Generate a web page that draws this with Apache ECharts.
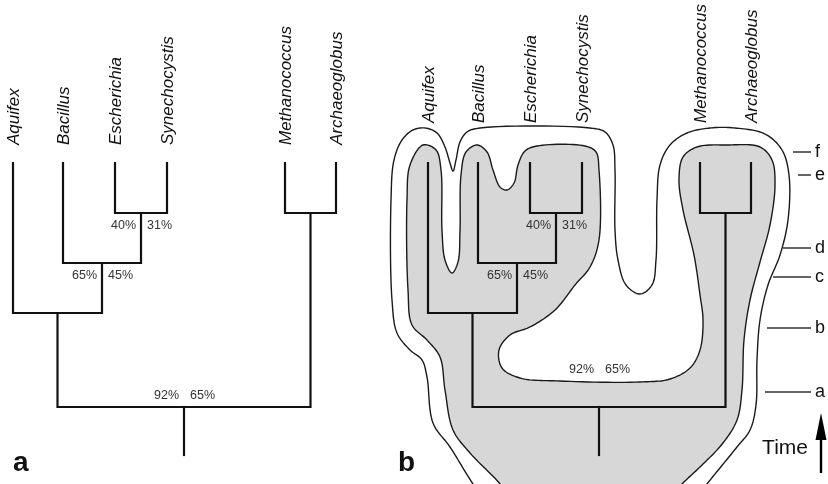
<!DOCTYPE html>
<html><head><meta charset="utf-8">
<script src="https://cdn.jsdelivr.net/npm/echarts@6/dist/echarts.min.js"></script>
<style>html,body{margin:0;padding:0;background:#fff}#c{width:828px;height:484px}</style>
</head><body><div id="c"></div>
<script>
// ---- data ----
const taxa = ['Aquifex', 'Bacillus', 'Escherichia', 'Synechocystis', 'Methanococcus', 'Archaeoglobus'];
const taxonX = [5.0, 10.0, 15.2, 20.4, 32.2, 37.3];
const tipTime = 32.1;
const nodeLeft  = ['Escherichia', 'Bacillus', 'Aquifex', 'Methanococcus', 'N2'];
const nodeRight = ['Synechocystis', 'N0', 'N1', 'Archaeoglobus', 'N3'];
const nodeTime  = [27.1, 22.1, 17.1, 27.1, 7.7];
const leftSupport  = [40, 65, null, null, 92];
const rightSupport = [31, 45, null, null, 65];
const rootBase = 2.9;
const eventNames = ['f', 'e', 'd', 'c', 'b', 'a'];
const eventTime  = [33.2, 30.9, 23.6, 20.7, 15.6, 9.2];
const outerOutline = [[10.7,-1.6],[9.5,0],[7.2,3.7],[5.5,6.1],[4.9,10.7],[4.4,12.4],[3.2,13.4],[1.9,15.1],[1.4,18.4],[1.3,28.4],[1.6,32.4],[2.4,34.4],[3.5,35.4],[4.7,35.6],[5.9,35.1],[6.7,33.7],[7.2,32.1],[7.5,31.3],[7.8,32.4],[8.2,34.2],[8.9,35.2],[10.2,35.6],[21.2,35.6],[22.7,35.2],[23.5,33.9],[23.7,31.4],[23.7,25.4],[24.0,22.4],[24.8,19.9],[26.2,19.0],[27.4,19.9],[27.8,22.4],[27.9,28.4],[28.2,31.9],[29.2,33.9],[30.9,35.1],[33.2,35.6],[35.7,35.6],[38.7,35.0],[40.4,33.4],[41.1,30.9],[41.0,26.4],[40.2,22.9],[39.0,19.9],[38.2,16.4],[37.9,12.4],[37.8,7.9],[37.2,5.4],[35.9,3.7],[32.9,0],[31.7,-1.6]];
const innerOutline = [[13.2,-1.6],[12.2,0],[9.2,3.1],[7.5,5.4],[6.7,9.4],[6.2,12.7],[4.9,14.4],[3.4,15.9],[3.0,19.4],[2.9,28.4],[3.2,31.9],[4.5,33.9],[5.8,33.4],[6.3,31.4],[6.4,25.4],[6.7,22.4],[7.4,21.1],[8.0,22.2],[8.2,25.4],[8.3,30.9],[8.8,33.2],[9.9,33.9],[10.9,33.2],[11.5,31.4],[12.2,29.7],[12.9,29.4],[13.6,30.1],[14.0,31.9],[14.7,33.3],[15.9,33.8],[20.7,33.8],[21.8,33.2],[22.1,31.4],[22.1,24.4],[21.2,21.7],[19.7,19.9],[17.7,17.4],[15.2,15.7],[13.2,14.9],[12.1,13.4],[12.4,11.6],[14.2,10.6],[18.2,10.3],[26.2,10.2],[29.2,10.5],[31.2,11.6],[32.2,13.4],[32.5,16.4],[32.2,18.9],[31.6,22.9],[30.5,27.4],[30.1,30.4],[30.5,32.7],[31.9,33.7],[34.9,33.9],[38.2,33.7],[39.4,32.4],[39.7,29.9],[39.2,25.9],[38.2,22.2],[37.2,18.4],[36.6,14.4],[36.4,9.4],[35.9,6.4],[34.5,4.1],[32.2,1.7],[30.4,0],[29.0,-1.6]];

// ---- layout / style ----
const FONT = "'Liberation Sans', Arial, Helvetica, sans-serif";
const labelTime = [33.9, 36.1];          // where the taxon names end (panel a, b)
const rootLabelDy = [-11, -37];          // root support label offset (px) per panel
const tickStart = [41.5, 42.0, 40.5, 39.5, 38.9, 38.7];
const tickEnd = 43.3;

// ---- tree geometry (dendrogram: internal node at midpoint of children) ----
function pos(name) {
  if (name[0] === 'N') {
    const i = +name.slice(1);
    const l = pos(nodeLeft[i]), r = pos(nodeRight[i]);
    return [(l[0] + r[0]) / 2, nodeTime[i]];
  }
  return [taxonX[taxa.indexOf(name)], tipTime];
}
const treePaths = nodeTime.map((t, i) => {
  const l = pos(nodeLeft[i]), r = pos(nodeRight[i]);
  return [l, [l[0], t], [r[0], t], r];
});
const root = pos('N' + (nodeTime.length - 1));
treePaths.push([root, [root[0], rootBase]]);

// centripetal Catmull-Rom (closed)
function catmull(pts, steps) {
  const n = pts.length, out = [];
  const d = (a, b) => Math.max(1e-4, Math.pow(Math.hypot(b[0] - a[0], b[1] - a[1]), 0.5));
  const lerp = (a, b, ta, tb, t) => [0, 1].map(k => ((tb - t) * a[k] + (t - ta) * b[k]) / (tb - ta));
  for (let i = 0; i < n; i++) {
    const p0 = pts[(i - 1 + n) % n], p1 = pts[i], p2 = pts[(i + 1) % n], p3 = pts[(i + 2) % n];
    const t0 = 0, t1 = t0 + d(p0, p1), t2 = t1 + d(p1, p2), t3 = t2 + d(p2, p3);
    for (let s = 0; s < steps; s++) {
      const t = t1 + (t2 - t1) * s / steps;
      const A1 = lerp(p0, p1, t0, t1, t), A2 = lerp(p1, p2, t1, t2, t), A3 = lerp(p2, p3, t2, t3, t);
      const B1 = lerp(A1, A2, t0, t2, t), B2 = lerp(A2, A3, t1, t3, t);
      out.push(lerp(B1, B2, t1, t2, t));
    }
  }
  return out;
}

function shapeSeries(outline, fill, z) {
  return {
    type: 'custom', xAxisIndex: 1, yAxisIndex: 1, clip: false, silent: true, z: z,
    data: [[20, 20]],
    renderItem: function (params, api) {
      const px = outline.map(p => api.coord(p));
      return { type: 'polygon', shape: { points: catmull(px, 14) },
        style: { fill: fill, stroke: '#1a1a1a', lineWidth: 1.4 } };
    }
  };
}

function treeSeries(panel) {
  return {
    type: 'lines', coordinateSystem: 'cartesian2d', xAxisIndex: panel, yAxisIndex: panel,
    polyline: true, silent: true, z: 5,
    data: treePaths.map(c => ({ coords: c })),
    lineStyle: { color: '#111', width: 2.2, opacity: 1, join: 'miter', cap: 'square' }
  };
}

function taxonLabelSeries(panel) {
  return {
    type: 'custom', xAxisIndex: panel, yAxisIndex: panel, clip: false, silent: true, z: 6,
    data: taxa.map((t, i) => [taxonX[i], labelTime[panel]]),
    renderItem: function (params, api) {
      const p = api.coord([api.value(0), api.value(1)]);
      return { type: 'text', x: p[0] + 1, y: p[1], rotation: Math.PI / 2,
        style: { text: taxa[params.dataIndex], fontSize: 17, fontStyle: 'italic',
          fontFamily: FONT, fill: '#111', align: 'left', verticalAlign: 'middle' } };
    }
  };
}

function supportSeries(panel) {
  const items = [];
  nodeTime.forEach((t, i) => {
    if (leftSupport[i] == null) return;
    const p = pos('N' + i);
    items.push([p[0], t, leftSupport[i], rightSupport[i], i === nodeTime.length - 1 ? 1 : 0]);
  });
  return {
    type: 'custom', xAxisIndex: panel, yAxisIndex: panel, clip: false, silent: true, z: 6,
    data: items,
    renderItem: function (params, api) {
      const p = api.coord([api.value(0), api.value(1)]);
      const dy = api.value(4) ? rootLabelDy[panel] : 13;
      const st = { fontSize: 12.5, fontFamily: FONT, fill: '#333', verticalAlign: 'middle' };
      return { type: 'group', children: [
        { type: 'text', x: p[0] - 5, y: p[1] + dy, style: Object.assign({ text: api.value(2) + '%', align: 'right' }, st) },
        { type: 'text', x: p[0] + 6, y: p[1] + dy, style: Object.assign({ text: api.value(3) + '%', align: 'left' }, st) }
      ] };
    }
  };
}

const eventSeries = {
  type: 'custom', xAxisIndex: 1, yAxisIndex: 1, clip: false, silent: true, z: 6,
  data: eventNames.map((n, i) => [tickStart[i], eventTime[i]]),
  renderItem: function (params, api) {
    const a = api.coord([api.value(0), api.value(1)]);
    const b = api.coord([tickEnd, api.value(1)]);
    return { type: 'group', children: [
      { type: 'line', shape: { x1: a[0], y1: a[1], x2: b[0], y2: b[1] }, style: { stroke: '#333', lineWidth: 1.5 } },
      { type: 'text', x: b[0] + 4, y: a[1], style: { text: eventNames[params.dataIndex], fontSize: 18,
        fontFamily: FONT, fill: '#111', align: 'left', verticalAlign: 'middle' } }
    ] };
  }
};

const timeArrowSeries = {
  type: 'custom', xAxisIndex: 1, yAxisIndex: 1, clip: false, silent: true, z: 6,
  data: [[44.3, 1.1, 7.1]],
  renderItem: function (params, api) {
    const b = api.coord([api.value(0), api.value(1)]);
    const t = api.coord([api.value(0), api.value(2)]);
    const tx = api.coord([43.0, 3.55]);
    return { type: 'group', children: [
      { type: 'line', shape: { x1: b[0], y1: b[1], x2: t[0], y2: t[1] + 20 }, style: { stroke: '#000', lineWidth: 2.4 } },
      { type: 'polygon', shape: { points: [[t[0], t[1]], [t[0] - 5.5, t[1] + 27], [t[0] + 5.5, t[1] + 27]] }, style: { fill: '#000' } },
      { type: 'text', x: tx[0], y: tx[1], style: { text: 'Time', fontSize: 21, fontFamily: FONT, fill: '#111',
        align: 'right', verticalAlign: 'middle' } }
    ] };
  }
};

const chart = echarts.init(document.getElementById('c'), null, { renderer: 'canvas' });
chart.setOption({
  animation: false,
  backgroundColor: '#fff',
  grid: [
    { left: 0, top: 0, width: 450, height: 484 },
    { left: 378, top: 0, width: 450, height: 484 }
  ],
  xAxis: [
    { gridIndex: 0, type: 'value', min: 3.7, max: 48.7, show: false },
    { gridIndex: 1, type: 'value', min: 0, max: 45, show: false }
  ],
  yAxis: [
    { gridIndex: 0, type: 'value', min: 0, max: 48.4, show: false },
    { gridIndex: 1, type: 'value', min: 0, max: 48.4, show: false }
  ],
  graphic: [
    { type: 'text', x: 13, y: 463, style: { text: 'a', font: "bold 28px " + FONT, fill: '#111', verticalAlign: 'middle' } },
    { type: 'text', x: 398, y: 463, style: { text: 'b', font: "bold 28px " + FONT, fill: '#111', verticalAlign: 'middle' } }
  ],
  series: [
    shapeSeries(outerOutline, '#ffffff', 1),
    shapeSeries(innerOutline, '#d7d7d7', 2),
    treeSeries(0), treeSeries(1),
    taxonLabelSeries(0), taxonLabelSeries(1),
    supportSeries(0), supportSeries(1),
    eventSeries, timeArrowSeries
  ]
});
</script></body></html>
